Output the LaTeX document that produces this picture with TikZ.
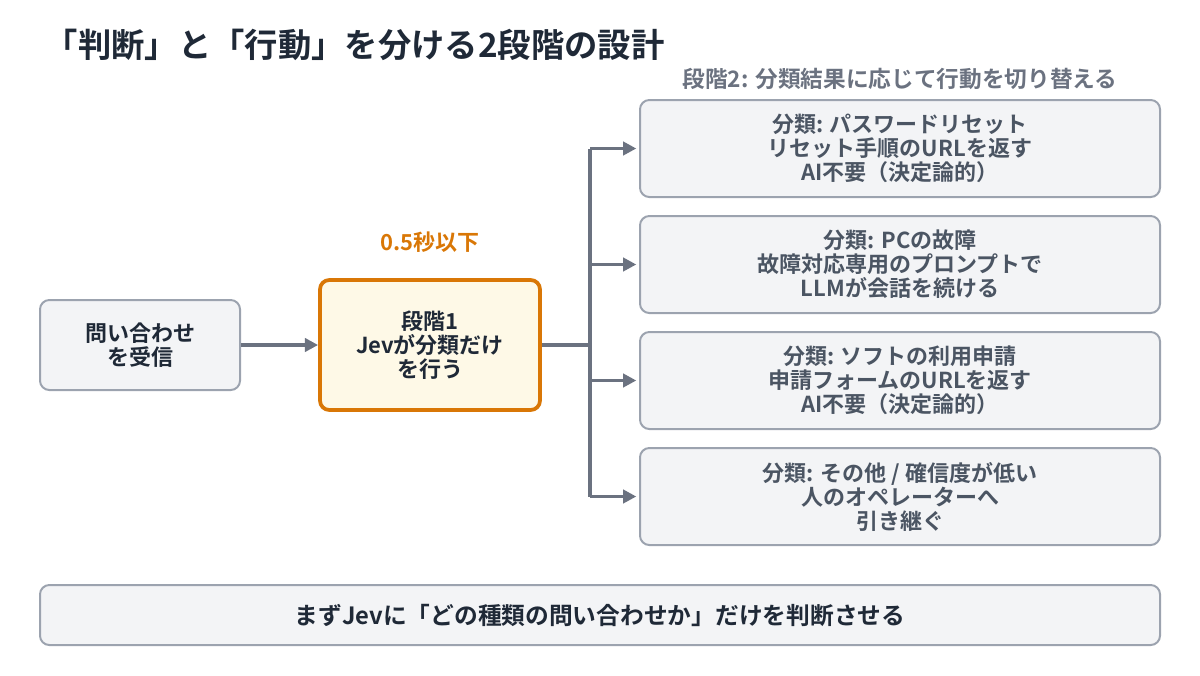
\documentclass[tikz,border=0pt]{standalone}
\usepackage{fontspec}
\setmainfont{Noto Sans CJK JP}[BoldFont={Noto Sans CJK JP Bold}]
\usetikzlibrary{arrows.meta}
\definecolor{boxfill}{HTML}{F3F4F6}
\definecolor{boxline}{HTML}{9CA3AF}
\definecolor{arr}{HTML}{6B7280}
\definecolor{dark}{HTML}{1F2937}
\definecolor{mid}{HTML}{4B5563}
\definecolor{org}{HTML}{D97706}
\definecolor{ofill}{HTML}{FEF9E7}
\tikzset{
 box/.style={draw=boxline,fill=boxfill,line width=1.5pt,rounded corners=7pt,align=center,font=\bfseries\fontsize{16.5}{18}\selectfont,inner sep=0pt},
 conn/.style={draw=arr,line width=2.5pt,-{Triangle[length=10pt,width=10pt]}},
}
\begin{document}
\begin{tikzpicture}[x=0.75pt,y=-0.75pt]
\useasboundingbox (0,0) rectangle (1200,675);
\node[anchor=west,font=\bfseries\fontsize{25}{28}\selectfont,text=dark] (title) at (40,45) {「判断」と「行動」を分ける2段階の設計};
\node[font=\bfseries\fontsize{17}{20}\selectfont,text=arr] (sub) at (900,79) {段階2: 分類結果に応じて行動を切り替える};
\node[box,text=dark,minimum width=150pt,minimum height=67.5pt] (in) at (140,345) {問い合わせ\\を受信};
\node[box,draw=org,fill=ofill,line width=2.8pt,text=dark,minimum width=165pt,minimum height=97.5pt] (s1) at (430,345) {段階1\\Jevが分類だけ\\を行う};
\node[font=\bfseries\fontsize{16.5}{18}\selectfont,text=org] (t) at (430,242) {0.5秒以下};
\node[box,text=mid,minimum width=390pt,minimum height=72.75pt] (r1) at (900,148.5) {分類: パスワードリセット\\リセット手順のURLを返す\\AI不要（決定論的）};
\node[box,text=mid,minimum width=390pt,minimum height=72.75pt] (r2) at (900,264.5) {分類: PCの故障\\故障対応専用のプロンプトで\\LLMが会話を続ける};
\node[box,text=mid,minimum width=390pt,minimum height=72.75pt] (r3) at (900,380.5) {分類: ソフトの利用申請\\申請フォームのURLを返す\\AI不要（決定論的）};
\node[box,text=mid,minimum width=390pt,minimum height=72.75pt] (r4) at (900,496.5) {分類: その他 / 確信度が低い\\人のオペレーターへ\\引き継ぐ};
\node[box,text=dark,minimum width=840pt,minimum height=45pt,font=\bfseries\fontsize{17.8}{20}\selectfont] (bot) at (600,615) {まずJevに「どの種類の問い合わせか」だけを判断させる};
\coordinate (j) at (590,345);
\draw[conn] (in) -- (s1);
\draw[draw=arr,line width=2.5pt] (s1.east) -- (j);
\draw[draw=arr,line width=2.5pt] (590,148.5) -- (590,496.5);
\foreach \r in {r1,r2,r3,r4}{\draw[conn] (590,0 |- \r.west) -- ([xshift=-2pt]\r.west);}
\end{tikzpicture}
\end{document}
